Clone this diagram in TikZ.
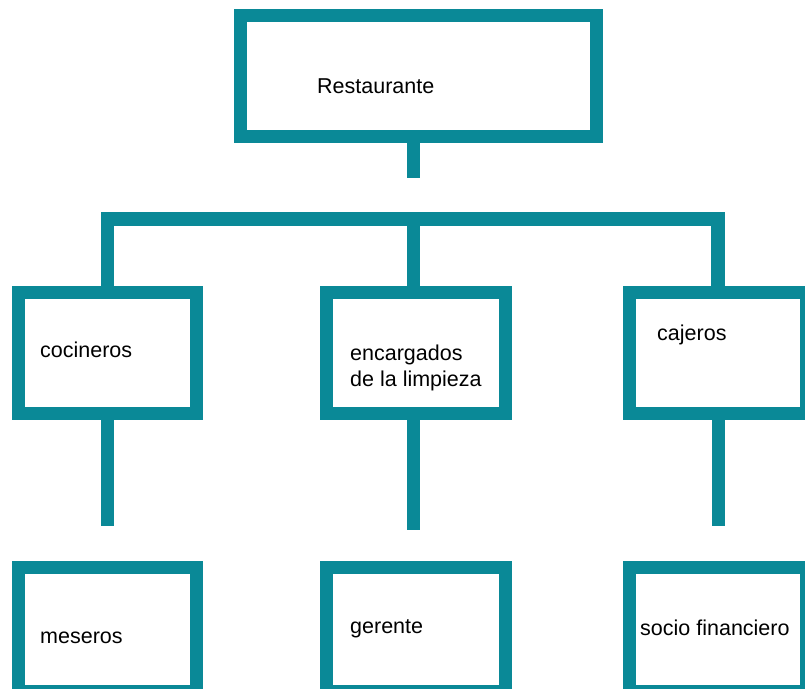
\documentclass[tikz,border=0pt]{standalone}
\usepackage{fontspec}
\setmainfont{Liberation Sans}
\definecolor{verdeazul}{RGB}{10,137,151}

\begin{document}
\begin{tikzpicture}[x=1pt,y=-1pt]
	\tikzset{caja/.style={draw=verdeazul,line width=13pt,minimum width=178pt,minimum height=121pt,inner sep=0pt},
		rama/.style={draw=verdeazul,line width=13.5pt},
		texto/.style={anchor=base west,inner sep=0pt,font=\fontsize{21.5}{26}\selectfont,align=left}}
	\useasboundingbox(0,0) rectangle (805,688);
	% cajas
	\node[caja,minimum width=356pt] (rest) at (418.5,76) {};
	\node[caja] (coc) at (107.5,353) {};
	\node[caja,minimum width=179pt] (enc) at (416,353) {};
	\node[caja,minimum width=177pt] (caj) at (718,353) {};
	\node[caja,minimum height=124pt] (mes) at (107.5,629.5) {};
	\node[caja,minimum width=179pt,minimum height=124pt] (ger) at (416,629.5) {};
	\node[caja,minimum width=177pt,minimum height=124pt] (soc) at (718,629.5) {};
	% textos
	\node[texto] (trest) at (317,93) {Restaurante};
	\node[texto] (tcoc) at (40,357) {cocineros};
	\node[texto] (tenc) at (350,386) {encargados\\de la limpieza};
	\node[texto] (tcaj) at (657,340) {cajeros};
	\node[texto] (tmes) at (40,643) {meseros};
	\node[texto] (tger) at (350,633) {gerente};
	\node[texto] (tsoc) at (640,635) {socio financiero};
	% ramas
	\coordinate (j) at (413.5,178);
	\coordinate (barra) at (413.5,219);
	\coordinate (e1) at (107.5,526);
	\coordinate (e2) at (413.5,530);
	\coordinate (e3) at (718.5,526);
	\draw[rama] (j |- rest.south) -- (j);
	\draw[rama] (coc.north) |- (barra) -| (caj.north);
	\draw[rama] (barra |- enc.north) -- (barra);
	\draw[rama] (coc.south) -- (e1);
	\draw[rama] (e2 |- enc.south) -- (e2);
	\draw[rama] (e3 |- caj.south) -- (e3);
\end{tikzpicture}
\end{document}
